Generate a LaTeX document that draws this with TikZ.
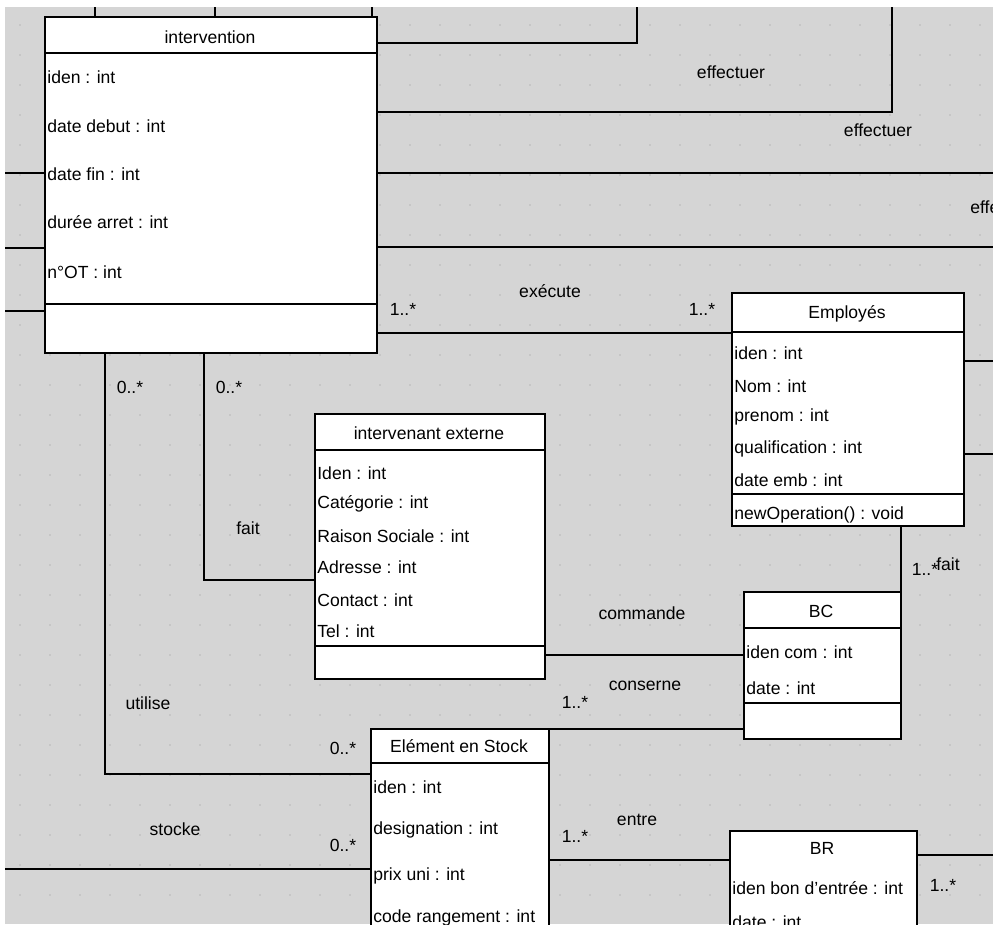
\documentclass[tikz,border=0pt]{standalone}
\usepackage{fontspec}
\setmainfont{Liberation Sans}
\definecolor{ScanGray}{RGB}{213,213,213}
\definecolor{DotGray}{RGB}{184,184,184}
\usetikzlibrary{positioning, calc}

\begin{document}
\begin{tikzpicture}[x=0.02cm, y=-0.02cm,
  classbox/.style={draw, fill=white, line width=1pt, inner sep=0pt, anchor=north west},
  attr/.style={font=\fontsize{10}{12}\selectfont, inner sep=0pt, anchor=west},
  lbl/.style={font=\fontsize{10}{12}\selectfont, inner sep=0pt},
  link/.style={line width=1pt}]
  \useasboundingbox (0,0) rectangle (993,924);
  \begin{scope}
  \clip (0,0) rectangle (993,924);
  \fill[white] (0,0) rectangle (993,924);
  \fill[ScanGray] (5,7) rectangle (993,924);
  % dotted grid of the editor
  \foreach \x in {20,50,...,990}
    \foreach \y in {25,55,...,920}
      \fill[DotGray] (\x,\y) circle (0.9);
  % edges of the scan
  \coordinate (ledge) at (5,0);
  \coordinate (redge) at (993,0);
  \coordinate (top1) at (95,7);
  \coordinate (top2) at (215,7);
  \coordinate (top3) at (372,7);
  \coordinate (eff1) at (637,7);
  \coordinate (eff2) at (892,7);
  % classes
  \node[classbox, minimum width=6.6cm, minimum height=6.68cm] (interv) at (45,17) {};
  \node[classbox, minimum width=4.6cm, minimum height=4.62cm] (emp) at (732,293) {};
  \node[classbox, minimum width=4.56cm, minimum height=5.26cm] (ext) at (315,414) {};
  \node[classbox, minimum width=3.1cm, minimum height=2.9cm] (bc) at (744,592) {};
  \node[classbox, minimum width=3.52cm, minimum height=4.62cm] (elem) at (371,729) {};
  \node[classbox, minimum width=3.7cm, minimum height=2.58cm] (br) at (730,831) {};
  % associations
  \draw[link] (top1) -- (top1 |- interv.north);
  \draw[link] (top2) -- (top2 |- interv.north);
  \draw[link] (top3) -- (top3 |- interv.north);
  \draw[link] (interv.east |- 0,43) -- (eff1 |- 0,43) -- (eff1);
  \draw[link] (interv.east |- 0,112) -- (eff2 |- 0,112) -- (eff2);
  \draw[link] (interv.east |- 0,173) -- (redge |- 0,173);
  \draw[link] (interv.east |- 0,247) -- (redge |- 0,247);
  \foreach \y in {173,248,311}
    \draw[link] (ledge |- 0,\y) -- (interv.west |- 0,\y);
  \draw[link] (interv.east |- 0,333) -- (emp.west |- 0,333);
  \draw[link] (interv.south -| 105,0) -- (105,774) -- (elem.west |- 0,774);
  \draw[link] (interv.south -| 204,0) -- (204,580) -- (ext.west |- 0,580);
  \draw[link] (emp.east |- 0,361) -- (redge |- 0,361);
  \draw[link] (emp.east |- 0,454) -- (redge |- 0,454);
  \draw[link] (emp.south -| bc.north east) -- (bc.north east);
  \draw[link] (ext.east |- 0,655) -- (bc.west |- 0,655);
  \draw[link] (elem.north east) -- (bc.west |- elem.north east);
  \draw[link] (elem.east |- 0,860) -- (br.west |- 0,860);
  \draw[link] (br.east |- 0,855) -- (redge |- 0,855);
  \draw[link] (ledge |- 0,869) -- (elem.west |- 0,869);
  % redraw the boxes over the line ends
  \foreach \c in {interv,emp,ext,bc,elem,br}
    \draw[line width=1pt, fill=white] (\c.north west) rectangle (\c.south east);
  % compartments
  \draw[link] (interv.west |- 0,53) -- (interv.east |- 0,53);
  \draw[link] (interv.west |- 0,304) -- (interv.east |- 0,304);
  \draw[link] (emp.west |- 0,332) -- (emp.east |- 0,332);
  \draw[link] (emp.west |- 0,494) -- (emp.east |- 0,494);
  \draw[link] (ext.west |- 0,450) -- (ext.east |- 0,450);
  \draw[link] (ext.west |- 0,646) -- (ext.east |- 0,646);
  \draw[link] (bc.west |- 0,628) -- (bc.east |- 0,628);
  \draw[link] (bc.west |- 0,703) -- (bc.east |- 0,703);
  \draw[link] (elem.west |- 0,763) -- (elem.east |- 0,763);
  % class names
  \node[lbl] (interv-t) at (210,37) {intervention};
  \node[lbl] (emp-t) at (847,314) {Employés};
  \node[lbl] (ext-t) at (429,433) {intervenant externe};
  \node[lbl] (bc-t) at (821,611) {BC};
  \node[lbl] (elem-t) at (459,746) {Elément en Stock};
  \node[lbl] (br-t) at (822,848) {BR};
  % attributes
  \foreach \y/\txt [count=\i] in {77/iden : int, 126/date debut : int, 174/date fin : int,
      222/durée arret : int, 272/n°OT : int}
    \node[attr] (interv-a\i) at (47,\y) {\txt};
  \foreach \y/\txt [count=\i] in {353/iden : int, 386/Nom  : int, 417/prenom : int,
      449/qualification : int, 480/date emb : int, 515/newOperation() : void}
    \node[attr] (emp-a\i) at (734,\y) {\txt};
  \foreach \y/\txt [count=\i] in {473/Iden : int, 504/Catégorie : int, 536/Raison Sociale : int,
      567/Adresse : int, 600/Contact : int, 631/Tel : int}
    \node[attr] (ext-a\i) at (317,\y) {\txt};
  \foreach \y/\txt [count=\i] in {652/iden com : int, 688/date : int}
    \node[attr] (bc-a\i) at (746,\y) {\txt};
  \foreach \y/\txt [count=\i] in {787/iden : int, 830/designation : int, 876/prix uni : int,
      918/code rangement : int}
    \node[attr] (elem-a\i) at (373,\y) {\txt};
  \foreach \y/\txt [count=\i] in {888/iden bon d'entrée : int, 922/date : int}
    \node[attr] (br-a\i) at (732,\y) {\txt};
  % association names and multiplicities
  \node[lbl] (eff1-l) at (731,72) {effectuer};
  \node[lbl] (eff2-l) at (878,130) {effectuer};
  \node[attr] (eff3-l) at (970,207) {effectuer};
  \node[lbl] (exec-l) at (550,291) {exécute};
  \node[lbl] (exec-m1) at (403,309) {1..*};
  \node[lbl] (exec-m2) at (702,309) {1..*};
  \node[lbl] (util-m1) at (130,387) {0..*};
  \node[lbl] (fait-m1) at (229,387) {0..*};
  \node[lbl] (fait-l) at (248,528) {fait};
  \node[lbl] (util-l) at (148,703) {utilise};
  \node[lbl] (util-m2) at (343,748) {0..*};
  \node[lbl] (stock-l) at (175,829) {stocke};
  \node[lbl] (stock-m) at (343,845) {0..*};
  \node[lbl] (fait2-m) at (925,569) {1..*};
  \node[lbl] (fait2-l) at (948,564) {fait};
  \node[lbl] (cmd-l) at (642,613) {commande};
  \node[lbl] (cons-l) at (645,686) {conserne};
  \node[lbl] (cons-m) at (575,702) {1..*};
  \node[lbl] (entre-l) at (637,820) {entre};
  \node[lbl] (entre-m1) at (575,836) {1..*};
  \node[lbl] (entre-m2) at (943,885) {1..*};
  \end{scope}
\end{tikzpicture}
\end{document}
